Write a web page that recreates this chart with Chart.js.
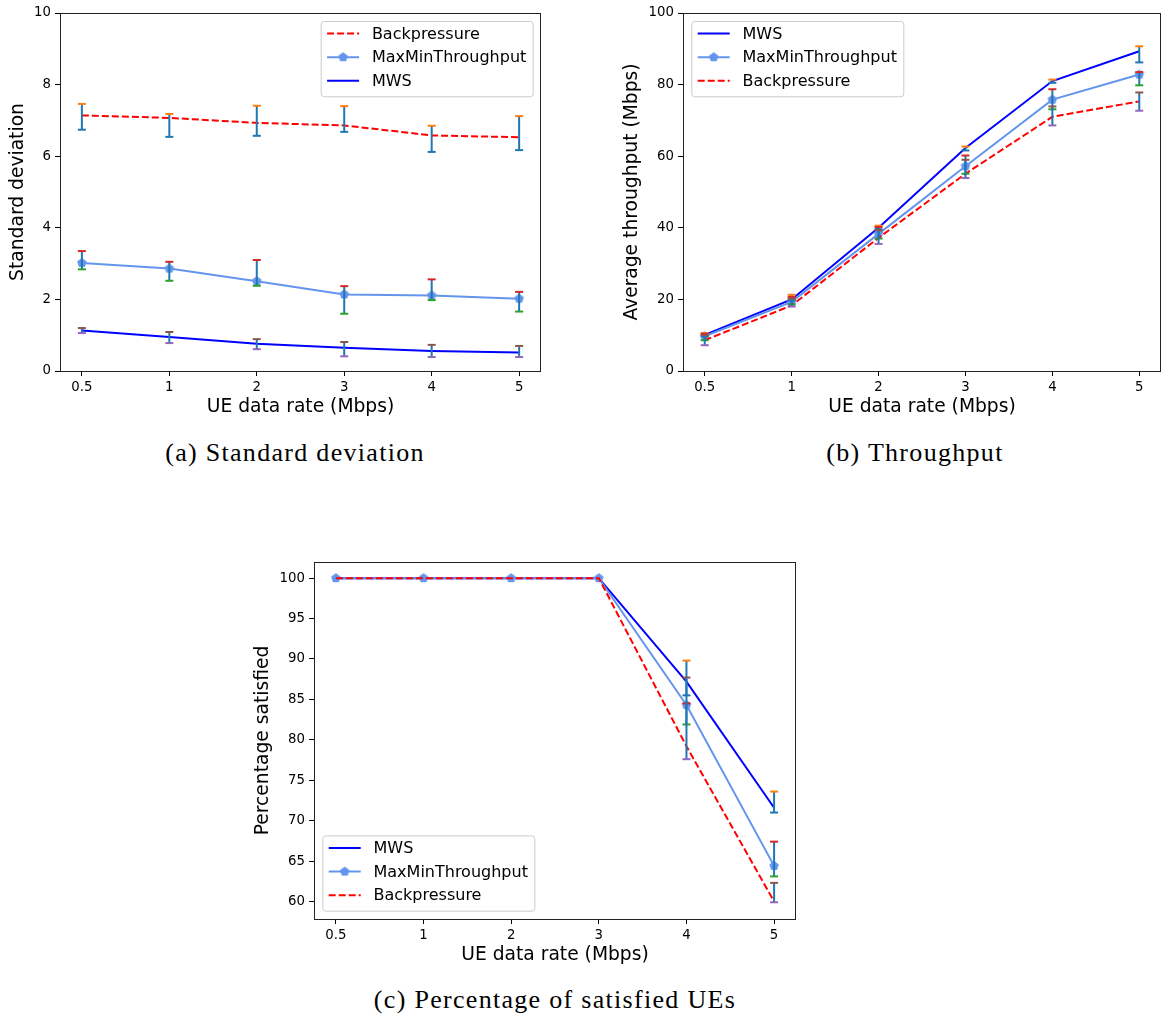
<!DOCTYPE html>
<html>
<head>
<meta charset="utf-8">
<script src="https://cdn.jsdelivr.net/npm/chart.js@4.4.0/dist/chart.umd.min.js"></script>
<style>
  body { margin: 0; background: #fff; width: 1168px; height: 1020px; position: relative; overflow: hidden; }
  canvas { position: absolute; }
  .cap { position: absolute; font-family: "Liberation Serif", serif; font-size: 26px; color: #000;
         white-space: nowrap; line-height: 1; letter-spacing: 1.3px; transform: translate(-50%, -50%); }
</style>
</head>
<body>
<canvas id="chartA" width="550" height="430" style="left:0;top:0"></canvas>
<canvas id="chartB" width="578" height="430" style="left:590px;top:0"></canvas>
<canvas id="chartC" width="590" height="430" style="left:230px;top:550px"></canvas>
<div class="cap" style="left:295px;top:453px">(a) Standard deviation</div>
<div class="cap" style="left:915px;top:453px">(b) Throughput</div>
<div class="cap" style="left:555px;top:1000px">(c) Percentage of satisfied UEs</div>
<script>
const rates = ['0.5', '1', '2', '3', '4', '5'];

// (a) standard deviation
const stdTicks = [0, 2, 4, 6, 8, 10];
const stdBackpressure   = [7.14, 7.07, 6.93, 6.86, 6.58, 6.53];
const stdBackpressureLo = [6.74, 6.54, 6.57, 6.68, 6.12, 6.17];
const stdBackpressureHi = [7.46, 7.18, 7.41, 7.40, 6.85, 7.12];
const stdMaxMin   = [3.02, 2.86, 2.51, 2.14, 2.11, 2.02];
const stdMaxMinLo = [2.84, 2.52, 2.38, 1.60, 1.98, 1.66];
const stdMaxMinHi = [3.35, 3.05, 3.10, 2.37, 2.56, 2.21];
const stdMws   = [1.13, 0.95, 0.76, 0.65, 0.56, 0.52];
const stdMwsLo = [1.06, 0.78, 0.61, 0.41, 0.39, 0.39];
const stdMwsHi = [1.20, 1.09, 0.89, 0.81, 0.73, 0.70];

// (b) throughput
const thrTicks = [0, 20, 40, 60, 80, 100];
const thrMws   = [10.1, 20.0, 40.0, 62.3, 81.0, 89.3];
const thrMwsLo = [9.7, 19.7, 39.6, 61.6, 80.5, 86.2];
const thrMwsHi = [10.6, 21.3, 40.6, 62.7, 81.4, 90.7];
const thrMaxMin   = [9.7, 19.3, 38.3, 57.2, 75.8, 82.8];
const thrMaxMinLo = [8.6, 18.6, 37.0, 55.1, 73.1, 79.8];
const thrMaxMinHi = [10.4, 20.7, 40.2, 60.2, 78.7, 83.5];
const thrBackpressure   = [8.6, 18.3, 37.2, 55.1, 71.0, 75.3];
const thrBackpressureLo = [7.2, 18.0, 35.5, 53.9, 68.6, 72.7];
const thrBackpressureHi = [10.0, 20.2, 39.3, 59.0, 73.9, 77.8];

// (c) percentage satisfied
const satTicks = [60, 65, 70, 75, 80, 85, 90, 95, 100];
const satMws   = [100, 100, 100, 100, 87.2, 71.6];
const satMwsLo = [100, 100, 100, 100, 85.5, 71.0];
const satMwsHi = [100, 100, 100, 100, 89.8, 73.6];
const satMaxMin   = [100, 100, 100, 100, 84.3, 64.4];
const satMaxMinLo = [100, 100, 100, 100, 81.9, 63.1];
const satMaxMinHi = [100, 100, 100, 100, 84.5, 67.4];
const satBackpressure   = [100, 100, 100, 100, 79.2, 60.0];
const satBackpressureLo = [100, 100, 100, 100, 77.6, 59.9];
const satBackpressureHi = [100, 100, 100, 100, 87.7, 62.3];

const cycle = ['#1f77b4', '#ff7f0e', '#2ca02c', '#d62728', '#9467bd', '#8c564b'];
const sans = '"DejaVu Sans", sans-serif';

function pentagon(color, r) {
  const c = document.createElement('canvas');
  c.width = c.height = 2 * r + 2;
  const g = c.getContext('2d');
  g.beginPath();
  for (let k = 0; k < 5; k++) {
    const a = -Math.PI / 2 + k * 2 * Math.PI / 5;
    g.lineTo(r + 1 + r * Math.cos(a), r + 1 + r * Math.sin(a));
  }
  g.closePath();
  g.fillStyle = color;
  g.fill();
  return c;
}
const marker = pentagon('#6495ed', 5);

// slot = plotting order: later series sit on top, like matplotlib
function series(kind, values, lo, hi, slot) {
  const base = {
    data: values.map((v, i) => ({ x: i, y: v })),
    errLo: lo, errHi: hi,
    capLo: cycle[slot * 2], capHi: cycle[slot * 2 + 1],
    order: 10 - slot,
    borderWidth: 2, pointRadius: 0, tension: 0, fill: false
  };
  if (kind === 'mws') return Object.assign(base, { label: 'MWS', borderColor: '#0000ff' });
  if (kind === 'maxmin') return Object.assign(base, { label: 'MaxMinThroughput', borderColor: '#6495ed',
    pointStyle: marker, pointRadius: 5, marker: true });
  return Object.assign(base, { label: 'Backpressure', borderColor: '#ff0000', borderDash: [7, 3] });
}

const errorBars = {
  id: 'errorBars',
  afterDatasetsDraw(chart) {
    const { ctx, scales: { x, y } } = chart;
    ctx.save();
    ctx.lineWidth = 2;
    chart.data.datasets.forEach(d => {
      d.data.forEach((p, i) => {
        if (d.errLo[i] === d.errHi[i]) return;
        const px = x.getPixelForValue(p.x);
        const top = y.getPixelForValue(d.errHi[i]);
        const bot = y.getPixelForValue(d.errLo[i]);
        ctx.strokeStyle = '#1f77b4';
        ctx.beginPath(); ctx.moveTo(px, top); ctx.lineTo(px, bot); ctx.stroke();
        ctx.strokeStyle = d.capHi;
        ctx.beginPath(); ctx.moveTo(px - 4, top); ctx.lineTo(px + 4, top); ctx.stroke();
        ctx.strokeStyle = d.capLo;
        ctx.beginPath(); ctx.moveTo(px - 4, bot); ctx.lineTo(px + 4, bot); ctx.stroke();
      });
    });
    ctx.restore();
  }
};

const frameLegend = {
  id: 'frameLegend',
  afterDraw(chart, args, opts) {
    const ctx = chart.ctx, a = chart.chartArea;
    ctx.save();
    ctx.strokeStyle = '#222';
    ctx.lineWidth = 1;
    ctx.strokeRect(Math.round(a.left) + 0.5, Math.round(a.top) + 0.5,
                   Math.round(a.width) - 1, Math.round(a.height));

    const sets = chart.data.datasets;
    ctx.font = '16px ' + sans;
    const textW = Math.max(...sets.map(d => ctx.measureText(d.label).width));
    const w = 6.4 + 32 + 12.8 + textW + 6.4, h = 75.3;
    const lx = opts.loc.includes('right') ? a.right - 8.3 - w : a.left + 8.3;
    const ly = opts.loc.includes('lower') ? a.bottom - 8.3 - h : a.top + 8;
    ctx.beginPath();
    ctx.roundRect(lx + 0.5, ly + 0.5, w, h, 3);
    ctx.fillStyle = 'rgba(255,255,255,0.8)';
    ctx.fill();
    ctx.strokeStyle = '#cccccc';
    ctx.stroke();
    sets.forEach((d, k) => {
      const cy = ly + 12.6 + k * 23.6;
      const sx = lx + 6.4;
      ctx.strokeStyle = d.borderColor;
      ctx.lineWidth = 2;
      ctx.setLineDash(d.borderDash || []);
      ctx.beginPath(); ctx.moveTo(sx, cy); ctx.lineTo(sx + 32, cy); ctx.stroke();
      ctx.setLineDash([]);
      if (d.marker) ctx.drawImage(marker, sx + 16 - marker.width / 2, cy - marker.height / 2);
      ctx.fillStyle = '#000';
      ctx.textBaseline = 'middle';
      ctx.fillText(d.label, sx + 32 + 12.8, cy + 1);
    });
    ctx.restore();
  }
};

function makeChart(id, sets, yTicks, yMin, yMax, yTitle, box, loc) {
  const tickFont = { family: sans, size: 13.3 };
  const titleFont = { family: sans, size: 18.7, lineHeight: 1.2 };
  const grid = { display: true, drawOnChartArea: false, drawTicks: true, tickLength: 5, color: '#000', lineWidth: 1 };
  return new Chart(document.getElementById(id), {
    type: 'line',
    data: { datasets: sets },
    options: {
      responsive: false,
      animation: false,
      devicePixelRatio: 1,
      events: [],
      layout: { padding: { left: 0, right: box.padRight, top: box.padTop, bottom: 0 } },
      plugins: { legend: { display: false }, tooltip: { enabled: false }, frameLegend: { loc: loc } },
      scales: {
        x: {
          type: 'linear', min: -0.25, max: 5.25,
          afterBuildTicks: s => { s.ticks = rates.map((r, i) => ({ value: i })); },
          afterFit: s => { s.height = box.xHeight; },
          ticks: { callback: v => rates[v], font: tickFont, color: '#000', padding: 4, autoSkip: false, maxRotation: 0 },
          grid: grid,
          border: { display: false },
          title: { display: true, text: 'UE data rate (Mbps)', font: titleFont, color: '#000',
                   padding: { top: 0, bottom: box.xTitlePad } }
        },
        y: {
          type: 'linear', min: yMin, max: yMax,
          afterBuildTicks: s => { s.ticks = yTicks.map(v => ({ value: v })); },
          afterFit: s => { s.width = box.yWidth; },
          ticks: { font: tickFont, color: '#000', padding: 4, autoSkip: false },
          grid: grid,
          border: { display: false },
          title: { display: true, text: yTitle, font: titleFont, color: '#000',
                   padding: { top: box.yTitlePad, bottom: 0 } }
        }
      }
    },
    plugins: [errorBars, frameLegend]
  });
}

makeChart('chartA', [
  series('bp', stdBackpressure, stdBackpressureLo, stdBackpressureHi, 0),
  series('maxmin', stdMaxMin, stdMaxMinLo, stdMaxMinHi, 1),
  series('mws', stdMws, stdMwsLo, stdMwsHi, 2)
], stdTicks, 0, 10, 'Standard deviation',
  { padRight: 9, padTop: 13, xHeight: 59, xTitlePad: 11.8, yWidth: 60, yTitlePad: 6.8 }, 'upper right');

makeChart('chartB', [
  series('mws', thrMws, thrMwsLo, thrMwsHi, 0),
  series('maxmin', thrMaxMin, thrMaxMinLo, thrMaxMinHi, 1),
  series('bp', thrBackpressure, thrBackpressureLo, thrBackpressureHi, 2)
], thrTicks, 0, 100, 'Average throughput (Mbps)',
  { padRight: 5, padTop: 13, xHeight: 59, xTitlePad: 11.8, yWidth: 93, yTitlePad: 30.8 }, 'upper left');

makeChart('chartC', [
  series('mws', satMws, satMwsLo, satMwsHi, 0),
  series('maxmin', satMaxMin, satMaxMinLo, satMaxMinHi, 1),
  series('bp', satBackpressure, satBackpressureLo, satBackpressureHi, 2)
], satTicks, 57.83, 102, 'Percentage satisfied',
  { padRight: 24, padTop: 11, xHeight: 61, xTitlePad: 13.8, yWidth: 84, yTitlePad: 21.8 }, 'lower left');
</script>
</body>
</html>
